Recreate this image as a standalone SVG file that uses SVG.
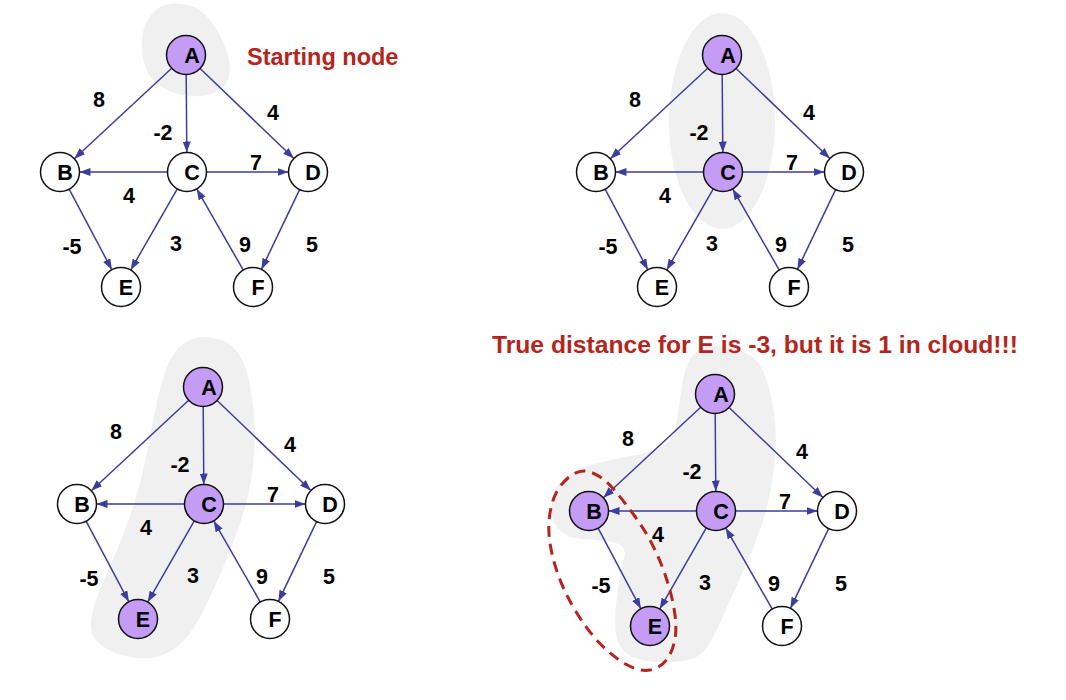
<svg xmlns="http://www.w3.org/2000/svg" width="1066" height="700" viewBox="0 0 1066 700">
<defs>
<style>
.bg{fill:#ffffff}
.cloud{fill:#f0f0f0;stroke:none}
.e{stroke:#3d3d9e;stroke-width:1.5;fill:none;marker-end:url(#arr)}
.n{fill:#ffffff;stroke:#111;stroke-width:1.5}
.p{fill:#c49bf5;stroke:#111;stroke-width:1.5}
.nl{font-family:"Liberation Sans",Arial,sans-serif;font-weight:bold;font-size:21.5px;fill:#000;text-anchor:middle}
.el{font-family:"Liberation Sans",Arial,sans-serif;font-weight:bold;font-size:21.5px;fill:#000;text-anchor:middle}
.red{font-family:"Liberation Sans",Arial,sans-serif;font-weight:bold;font-size:23.5px;fill:#b3261e}
.dash{fill:none;stroke:#b3261e;stroke-width:3;stroke-dasharray:11 7}
</style>
<marker id="arr" markerWidth="11" markerHeight="8" refX="11" refY="4" orient="auto" markerUnits="userSpaceOnUse">
<path d="M0,0 L11,4 L0,8 z" fill="#3d3d9e"/>
</marker>
</defs>
<rect class="bg" x="0" y="0" width="1066" height="700"/>

<g id="clouds">
<path class="cloud" d="M172.5,3.5 Q160,4 151.5,14.5 Q143,25 142,40 Q141,55 145.5,67.5 Q150,80 162.5,87.5 Q175,95 190,96 Q205,97 215,92.5 Q225,88 228.5,78 Q232,68 227,53 Q222,38 213.5,25 Q205,12 195,7.5 Q185,3 172.5,3.5 Z"/>
<ellipse class="cloud" cx="722" cy="121" rx="53" ry="108"/>
<path class="cloud" d="M222.5,340.5 Q242,348 249,380.5 Q256,413 254.5,446.5 Q253,480 244.5,509 Q236,538 223,568 Q210,598 199.5,618 Q189,638 174.5,648.5 Q160,659 142.5,658.5 Q125,658 110,650.5 Q95,643 92,632.5 Q89,622 94.5,605 Q100,588 112,561.5 Q124,535 134,503.5 Q144,472 150.5,434.5 Q157,397 164.5,373.5 Q172,350 187.5,341.5 Q203,333 222.5,340.5 Z"/>
<path class="cloud" d="M725,346.5 Q745,350 755,359 Q765,368 771.5,399 Q778,430 774.5,463.5 Q771,497 762.5,522.5 Q754,548 742.5,573 Q731,598 719.5,624 Q708,650 698,656 Q688,662 664,662 Q640,662 629,655 Q618,648 616,634 Q614,620 617,596.5 Q620,573 624,559 Q628,545 614,542.5 Q600,540 582.5,539 Q565,538 557.5,528 Q550,518 551.5,504 Q553,490 562.5,480 Q572,470 592.5,464.5 Q613,459 634,455.5 Q655,452 665,445 Q675,438 677.5,417.5 Q680,397 683,379.5 Q686,362 695.5,352.5 Q705,343 725,346.5 Z"/>
</g>

<g id="connectors">
<g id="edges-1">
<line class="e" x1="171.7" y1="68.3" x2="74.3" y2="158.7"/>
<line class="e" x1="186.2" y1="74.5" x2="186.8" y2="152.5"/>
<line class="e" x1="200.1" y1="68.5" x2="293.9" y2="158.5"/>
<line class="e" x1="167.5" y1="172" x2="79.5" y2="172"/>
<line class="e" x1="206.5" y1="172" x2="288.5" y2="172"/>
<line class="e" x1="177.3" y1="188.9" x2="130.7" y2="270.1"/>
<line class="e" x1="69.1" y1="189.2" x2="111.9" y2="269.8"/>
<line class="e" x1="243.3" y1="270.1" x2="196.7" y2="188.9"/>
<line class="e" x1="299.6" y1="189.6" x2="261.4" y2="269.4"/>
</g>
<g id="edges-2" transform="translate(536,0)">
<line class="e" x1="171.7" y1="68.3" x2="74.3" y2="158.7"/>
<line class="e" x1="186.2" y1="74.5" x2="186.8" y2="152.5"/>
<line class="e" x1="200.1" y1="68.5" x2="293.9" y2="158.5"/>
<line class="e" x1="167.5" y1="172" x2="79.5" y2="172"/>
<line class="e" x1="206.5" y1="172" x2="288.5" y2="172"/>
<line class="e" x1="177.3" y1="188.9" x2="130.7" y2="270.1"/>
<line class="e" x1="69.1" y1="189.2" x2="111.9" y2="269.8"/>
<line class="e" x1="243.3" y1="270.1" x2="196.7" y2="188.9"/>
<line class="e" x1="299.6" y1="189.6" x2="261.4" y2="269.4"/>
</g>
<g id="edges-3" transform="translate(17,332)">
<line class="e" x1="171.7" y1="68.3" x2="74.3" y2="158.7"/>
<line class="e" x1="186.2" y1="74.5" x2="186.8" y2="152.5"/>
<line class="e" x1="200.1" y1="68.5" x2="293.9" y2="158.5"/>
<line class="e" x1="167.5" y1="172" x2="79.5" y2="172"/>
<line class="e" x1="206.5" y1="172" x2="288.5" y2="172"/>
<line class="e" x1="177.3" y1="188.9" x2="130.7" y2="270.1"/>
<line class="e" x1="69.1" y1="189.2" x2="111.9" y2="269.8"/>
<line class="e" x1="243.3" y1="270.1" x2="196.7" y2="188.9"/>
<line class="e" x1="299.6" y1="189.6" x2="261.4" y2="269.4"/>
</g>
<g id="edges-4" transform="translate(529,339)">
<line class="e" x1="171.7" y1="68.3" x2="74.3" y2="158.7"/>
<line class="e" x1="186.2" y1="74.5" x2="186.8" y2="152.5"/>
<line class="e" x1="200.1" y1="68.5" x2="293.9" y2="158.5"/>
<line class="e" x1="167.5" y1="172" x2="79.5" y2="172"/>
<line class="e" x1="206.5" y1="172" x2="288.5" y2="172"/>
<line class="e" x1="177.3" y1="188.9" x2="130.7" y2="270.1"/>
<line class="e" x1="69.1" y1="189.2" x2="111.9" y2="269.8"/>
<line class="e" x1="243.3" y1="270.1" x2="196.7" y2="188.9"/>
<line class="e" x1="299.6" y1="189.6" x2="261.4" y2="269.4"/>
</g>
</g>

<path id="dashed-group" class="dash" d="M568.5,477.5 Q557,487 552.5,502 Q548,517 549,533.5 Q550,550 556.5,570 Q563,590 575,610 Q587,630 600,643.5 Q613,657 626.5,664.5 Q640,672 650,670 Q660,668 666,660.5 Q672,653 674.5,641.5 Q677,630 675,615 Q673,600 668,583.5 Q663,567 655,550 Q647,533 635,516.5 Q623,500 613,488.5 Q603,477 591.5,472.5 Q580,468 568.5,477.5 Z"/>

<g id="labels">
<g id="labels-1">
<text class="el" x="99" y="107">8</text>
<text class="el" x="273" y="120">4</text>
<text class="el" x="163" y="140">-2</text>
<text class="el" x="256" y="170">7</text>
<text class="el" x="129" y="203">4</text>
<text class="el" x="72" y="254">-5</text>
<text class="el" x="176" y="251">3</text>
<text class="el" x="245" y="252">9</text>
<text class="el" x="312" y="252">5</text>
</g>
<g id="labels-2" transform="translate(536,0)">
<text class="el" x="99" y="107">8</text>
<text class="el" x="273" y="120">4</text>
<text class="el" x="163" y="140">-2</text>
<text class="el" x="256" y="170">7</text>
<text class="el" x="129" y="203">4</text>
<text class="el" x="72" y="254">-5</text>
<text class="el" x="176" y="251">3</text>
<text class="el" x="245" y="252">9</text>
<text class="el" x="312" y="252">5</text>
</g>
<g id="labels-3" transform="translate(17,332)">
<text class="el" x="99" y="107">8</text>
<text class="el" x="273" y="120">4</text>
<text class="el" x="163" y="140">-2</text>
<text class="el" x="256" y="170">7</text>
<text class="el" x="129" y="203">4</text>
<text class="el" x="72" y="254">-5</text>
<text class="el" x="176" y="251">3</text>
<text class="el" x="245" y="252">9</text>
<text class="el" x="312" y="252">5</text>
</g>
<g id="labels-4" transform="translate(529,339)">
<text class="el" x="99" y="107">8</text>
<text class="el" x="273" y="120">4</text>
<text class="el" x="163" y="140">-2</text>
<text class="el" x="256" y="170">7</text>
<text class="el" x="129" y="203">4</text>
<text class="el" x="72" y="254">-5</text>
<text class="el" x="176" y="251">3</text>
<text class="el" x="245" y="252">9</text>
<text class="el" x="312" y="252">5</text>
</g>
</g>

<g id="graph1">
<g id="g1-A"><circle class="p" cx="186" cy="55" r="19.5"/><text class="nl" x="192" y="63">A</text></g>
<g id="g1-B"><circle class="n" cx="60" cy="172" r="19.5"/><text class="nl" x="65" y="180">B</text></g>
<g id="g1-C"><circle class="n" cx="187" cy="172" r="19.5"/><text class="nl" x="192" y="180">C</text></g>
<g id="g1-D"><circle class="n" cx="308" cy="172" r="19.5"/><text class="nl" x="313" y="180">D</text></g>
<g id="g1-E"><circle class="n" cx="121" cy="287" r="19.5"/><text class="nl" x="126" y="295">E</text></g>
<g id="g1-F"><circle class="n" cx="253" cy="287" r="19.5"/><text class="nl" x="258" y="295">F</text></g>
</g>
<g id="graph2" transform="translate(536,0)">
<g id="g2-A"><circle class="p" cx="186" cy="55" r="19.5"/><text class="nl" x="192" y="63">A</text></g>
<g id="g2-B"><circle class="n" cx="60" cy="172" r="19.5"/><text class="nl" x="65" y="180">B</text></g>
<g id="g2-C"><circle class="p" cx="187" cy="172" r="19.5"/><text class="nl" x="192" y="180">C</text></g>
<g id="g2-D"><circle class="n" cx="308" cy="172" r="19.5"/><text class="nl" x="313" y="180">D</text></g>
<g id="g2-E"><circle class="n" cx="121" cy="287" r="19.5"/><text class="nl" x="126" y="295">E</text></g>
<g id="g2-F"><circle class="n" cx="253" cy="287" r="19.5"/><text class="nl" x="258" y="295">F</text></g>
</g>
<g id="graph3" transform="translate(17,332)">
<g id="g3-A"><circle class="p" cx="186" cy="55" r="19.5"/><text class="nl" x="192" y="63">A</text></g>
<g id="g3-B"><circle class="n" cx="60" cy="172" r="19.5"/><text class="nl" x="65" y="180">B</text></g>
<g id="g3-C"><circle class="p" cx="187" cy="172" r="19.5"/><text class="nl" x="192" y="180">C</text></g>
<g id="g3-D"><circle class="n" cx="308" cy="172" r="19.5"/><text class="nl" x="313" y="180">D</text></g>
<g id="g3-E"><circle class="p" cx="121" cy="287" r="19.5"/><text class="nl" x="126" y="295">E</text></g>
<g id="g3-F"><circle class="n" cx="253" cy="287" r="19.5"/><text class="nl" x="258" y="295">F</text></g>
</g>
<g id="graph4" transform="translate(529,339)">
<g id="g4-A"><circle class="p" cx="186" cy="55" r="19.5"/><text class="nl" x="192" y="63">A</text></g>
<g id="g4-B"><circle class="p" cx="60" cy="172" r="19.5"/><text class="nl" x="65" y="180">B</text></g>
<g id="g4-C"><circle class="p" cx="187" cy="172" r="19.5"/><text class="nl" x="192" y="180">C</text></g>
<g id="g4-D"><circle class="n" cx="308" cy="172" r="19.5"/><text class="nl" x="313" y="180">D</text></g>
<g id="g4-E"><circle class="p" cx="121" cy="287" r="19.5"/><text class="nl" x="126" y="295">E</text></g>
<g id="g4-F"><circle class="n" cx="253" cy="287" r="19.5"/><text class="nl" x="258" y="295">F</text></g>
</g>

<text id="starting-note" class="red" x="247" y="65">Starting node</text>
<text id="distance-note" class="red" x="492" y="353" font-size="24" textLength="526" lengthAdjust="spacingAndGlyphs">True distance for E is -3, but it is 1 in cloud!!!</text>
</svg>
